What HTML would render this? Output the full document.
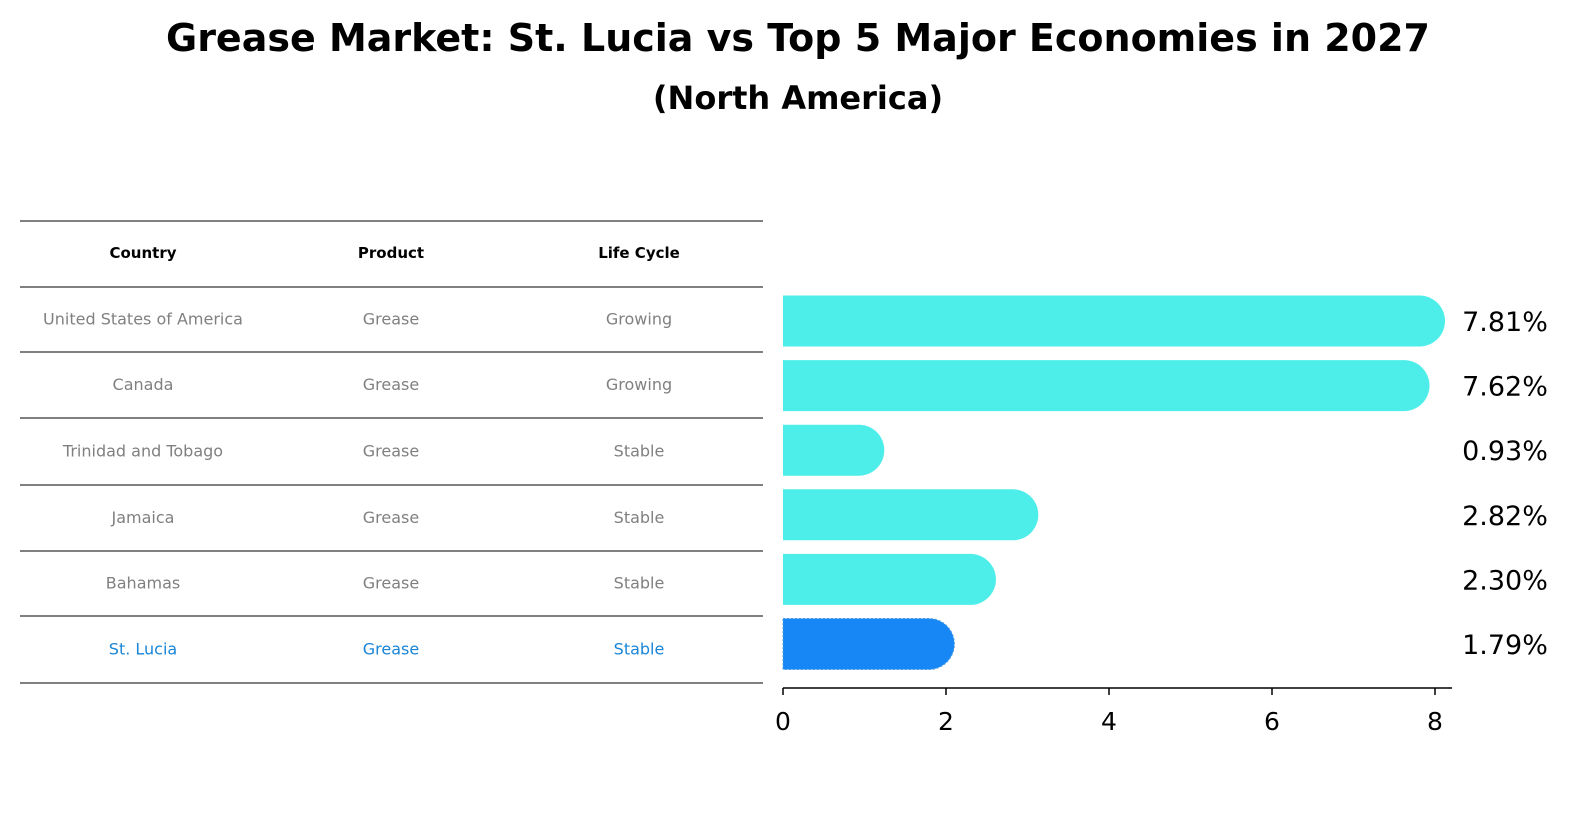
<!DOCTYPE html>
<html><head><meta charset="utf-8"><style>
body{margin:0;background:#fff;font-family:"Liberation Sans","DejaVu Sans",sans-serif;}
svg{display:block}
</style></head><body>
<svg id="c" width="1586" height="823" font-family="DejaVu Sans, Liberation Sans, sans-serif">
<text x="798" y="51" text-anchor="middle" font-size="38" font-weight="bold">Grease Market: St. Lucia vs Top 5 Major Economies in 2027</text>
<text x="798" y="109" text-anchor="middle" font-size="32" font-weight="bold">(North America)</text>
</svg>
<script>
const countries=["United States of America","Canada","Trinidad and Tobago","Jamaica","Bahamas","St. Lucia"];
const products=["Grease","Grease","Grease","Grease","Grease","Grease"];
const lifecycles=["Growing","Growing","Stable","Stable","Stable","Stable"];
const values=[7.81,7.62,0.93,2.82,2.30,1.79];
const ticks=[0,2,4,6,8];
const svg=document.getElementById('c');
const NS='http://www.w3.org/2000/svg';
function mk(t,a,txt){const e=document.createElementNS(NS,t);for(const k in a)e.setAttribute(k,a[k]);if(txt!==undefined)e.textContent=txt;svg.appendChild(e);return e;}
const x=v=>783+v*81.5;
const rowY=[221,287,352,418,485,551,616,683];
const colX=[143,391,639];
for(let i=0;i<rowY.length;i++){const l=mk('line',{x1:20,x2:763,y1:rowY[i],y2:rowY[i],stroke:'#000','stroke-width':1});

}
["Country","Product","Life Cycle"].forEach((h,j)=>{const t=mk('text',{x:colX[j],y:258,'text-anchor':'middle','font-size':15,'font-weight':'bold'},h);

});
countries.forEach((c,i)=>{const yc=(rowY[i+1]+rowY[i+2])/2+5;const col=i===countries.length-1?'#1a85d6':'#808080';
[c,products[i],lifecycles[i]].forEach((v,j)=>{const t=mk('text',{x:colX[j],y:yc,'text-anchor':'middle','font-size':16,fill:col},v);

});});
const h=51,r=25.5;
values.forEach((v,i)=>{const yc=321+i*64.6;const last=i===values.length-1;const fill=last?'#1787f5':'#4deee9';
const xe=x(v);
const p=mk('path',{d:`M783 ${yc-h/2} H${xe} A${r} ${r} 0 0 1 ${xe} ${yc+h/2} H783 Z`,fill:fill});
if(last){p.setAttribute('stroke','#4a9adf');p.setAttribute('stroke-dasharray','2 2');p.setAttribute('stroke-width','1');}


const t=mk('text',{x:1505,y:yc+10,'text-anchor':'middle','font-size':27},v.toFixed(2)+'%');

});
const ax=mk('line',{x1:783,x2:1452,y1:688,y2:688,stroke:'#000','stroke-width':1.5});


ticks.forEach(t=>{const l=mk('line',{x1:x(t),x2:x(t),y1:688,y2:695,stroke:'#000','stroke-width':1.5});


const tx=mk('text',{x:x(t),y:730,'text-anchor':'middle','font-size':25},t);

});
</script>
</body></html>
